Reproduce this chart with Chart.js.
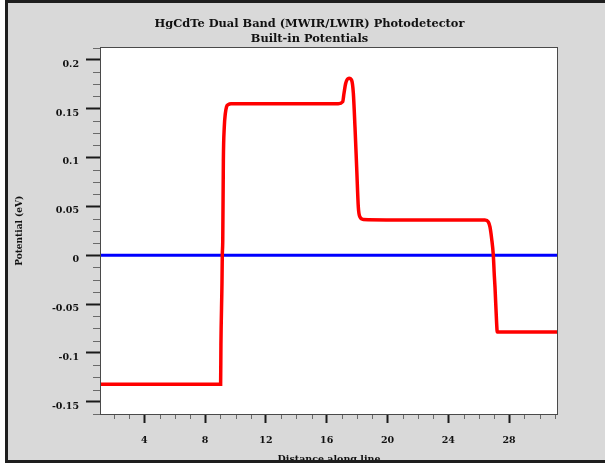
<!DOCTYPE html>
<html><head><meta charset="utf-8">
<script src="https://cdn.jsdelivr.net/npm/chart.js@4"></script>
<style>html,body{margin:0;padding:0;background:#fff;}canvas{display:block;}</style>
</head><body>
<canvas id="c" width="605" height="463"></canvas>
<script>
// Built-in potential along the line (x: distance, y: potential in eV)
const distance = [1.15, 9.02, 9.04, 9.11, 9.13, 9.16, 9.2, 9.26, 9.33, 9.41, 9.52, 9.7, 13.0, 16.76, 17.05, 17.14, 17.25, 17.47, 17.64, 17.75, 17.86, 17.97, 18.08, 18.19, 18.41, 22.0, 26.41, 26.63, 26.74, 26.85, 26.96, 27.03, 27.07, 27.18, 27.22, 27.4, 31.15];
const potential = [-0.132, -0.132, -0.092, -0.028, 0, 0.015, 0.097, 0.131, 0.145, 0.152, 0.154, 0.155, 0.155, 0.155, 0.157, 0.166, 0.176, 0.181, 0.179, 0.166, 0.131, 0.090, 0.049, 0.039, 0.0366, 0.036, 0.036, 0.034, 0.029, 0.017, 0, -0.022, -0.0325, -0.070, -0.0786, -0.0786, -0.0786];
// Zero reference line
const zeroDistance = [1.15, 31.15];
const zeroPotential = [0, 0];
// Axis ticks
const xTickValues = [4, 8, 12, 16, 20, 24, 28];
const xTickLabels = ['4', '8', '12', '16', '20', '24', '28'];
const yTickValues = [-0.15, -0.1, -0.05, 0, 0.05, 0.1, 0.15, 0.2];
const yTickLabels = ['-0.15', '-0.1', '-0.05', '0', '0.05', '0.1', '0.15', '0.2'];
const xMinorStep = 1;
const yMinorStep = 0.0125;

const serif = 'DejaVu Serif';

const framePlugin = {
  id: 'frame',
  beforeDraw(chart) {
    const {ctx, chartArea: a, width, height} = chart;
    ctx.save();
    ctx.fillStyle = '#ffffff'; ctx.fillRect(0, 0, width, height);
    ctx.fillStyle = '#d9d9d9'; ctx.fillRect(5, 0, width - 5, height);
    ctx.fillStyle = '#ffffff'; ctx.fillRect(a.left, a.top, a.right - a.left, a.bottom - a.top);
    ctx.restore();
  },
  afterDraw(chart) {
    const {ctx, chartArea: a, scales, width, height} = chart;
    ctx.save();
    ctx.strokeStyle = '#6a6a6a'; ctx.lineWidth = 1;
    ctx.beginPath();
    const ys = scales.y, xs = scales.x;
    for (let k = Math.ceil(ys.min / yMinorStep - 1e-6); k * yMinorStep <= ys.max + 1e-9; k++) {
      if (k % 4 === 0) continue;
      const y = Math.round(ys.getPixelForValue(k * yMinorStep)) + 0.5;
      ctx.moveTo(a.left - 8, y); ctx.lineTo(a.left, y);
    }
    for (let v = Math.ceil(xs.min); v <= xs.max; v += xMinorStep) {
      if (v % 4 === 0) continue;
      const x = Math.round(xs.getPixelForValue(v)) + 0.5;
      ctx.moveTo(x, a.bottom); ctx.lineTo(x, a.bottom + 5);
    }
    ctx.stroke();
    ctx.strokeStyle = '#4a4a4a'; ctx.lineWidth = 1;
    const l = Math.round(a.left), t = Math.round(a.top), r = Math.round(a.right), b = Math.round(a.bottom);
    ctx.strokeRect(l - 0.5, t - 0.5, r - l + 1, b - t + 1);
    ctx.fillStyle = '#1e1e1e';
    ctx.fillRect(5, 0, 3, height);
    ctx.fillRect(5, 0, width - 5, 3);
    ctx.fillRect(5, height - 3, width - 5, 3);
    ctx.restore();
  }
};

new Chart(document.getElementById('c'), {
  type: 'line',
  data: {
    datasets: [
      {
        label: 'Potential',
        data: distance.map((x, i) => ({x: x, y: potential[i]})),
        borderColor: '#ff0000', borderWidth: 3.5, pointRadius: 0,
        cubicInterpolationMode: 'monotone', fill: false
      },
      {
        label: 'Zero',
        data: zeroDistance.map((x, i) => ({x: x, y: zeroPotential[i]})),
        borderColor: '#0000ff', borderWidth: 3, pointRadius: 0, fill: false
      }
    ]
  },
  options: {
    responsive: false,
    animation: false,
    events: [],
    layout: {padding: {left: 14, right: 0, top: 16, bottom: 0}},
    plugins: {
      legend: {display: false},
      tooltip: {enabled: false},
      title: {
        display: true,
        text: ['HgCdTe Dual Band (MWIR/LWIR) Photodetector', 'Built-in Potentials'],
        color: '#111',
        font: {family: serif, weight: 'bold', size: 11.4, lineHeight: 1.34},
        padding: {top: 0.5, bottom: 0.5}
      }
    },
    scales: {
      x: {
        type: 'linear', position: 'bottom', min: 1.15, max: 31.15,
        afterBuildTicks: s => { s.ticks = xTickValues.map(v => ({value: v})); },
        afterFit: s => { s.height = 49; },
        ticks: {
          callback: (v, i) => xTickLabels[i], color: '#111', padding: 12,
          maxRotation: 0, autoSkip: false,
          font: {family: serif, weight: 'bold', size: 9.5}
        },
        grid: {display: true, drawOnChartArea: false, drawTicks: true, tickLength: 9, tickWidth: 2, tickColor: '#1a1a1a'},
        border: {display: false},
        title: {display: true, text: 'Distance along line', color: '#111',
          font: {family: serif, weight: 'bold', size: 9.5}, padding: {top: 0, bottom: -2.5}}
      },
      y: {
        type: 'linear', position: 'left', min: -0.1625, max: 0.2125,
        afterBuildTicks: s => { s.ticks = yTickValues.map(v => ({value: v})); },
        afterFit: s => { s.width = 87; },
        ticks: {
          callback: (v, i) => yTickLabels[i], color: '#111', padding: 7, labelOffset: 4.5,
          font: {family: serif, weight: 'bold', size: 9.5}
        },
        grid: {display: true, drawOnChartArea: false, drawTicks: true, tickLength: 15, tickWidth: 2, tickColor: '#1a1a1a'},
        border: {display: false},
        title: {display: true, text: 'Potential (eV)', color: '#111',
          font: {family: serif, weight: 'bold', size: 9}, padding: {top: 0, bottom: 0}}
      },
      yR: {
        type: 'linear', position: 'right', display: true,
        grid: {display: false}, border: {display: false},
        ticks: {display: false}, title: {display: false},
        afterFit: s => { s.width = 48; }
      }
    }
  },
  plugins: [framePlugin]
});
</script>
</body></html>
